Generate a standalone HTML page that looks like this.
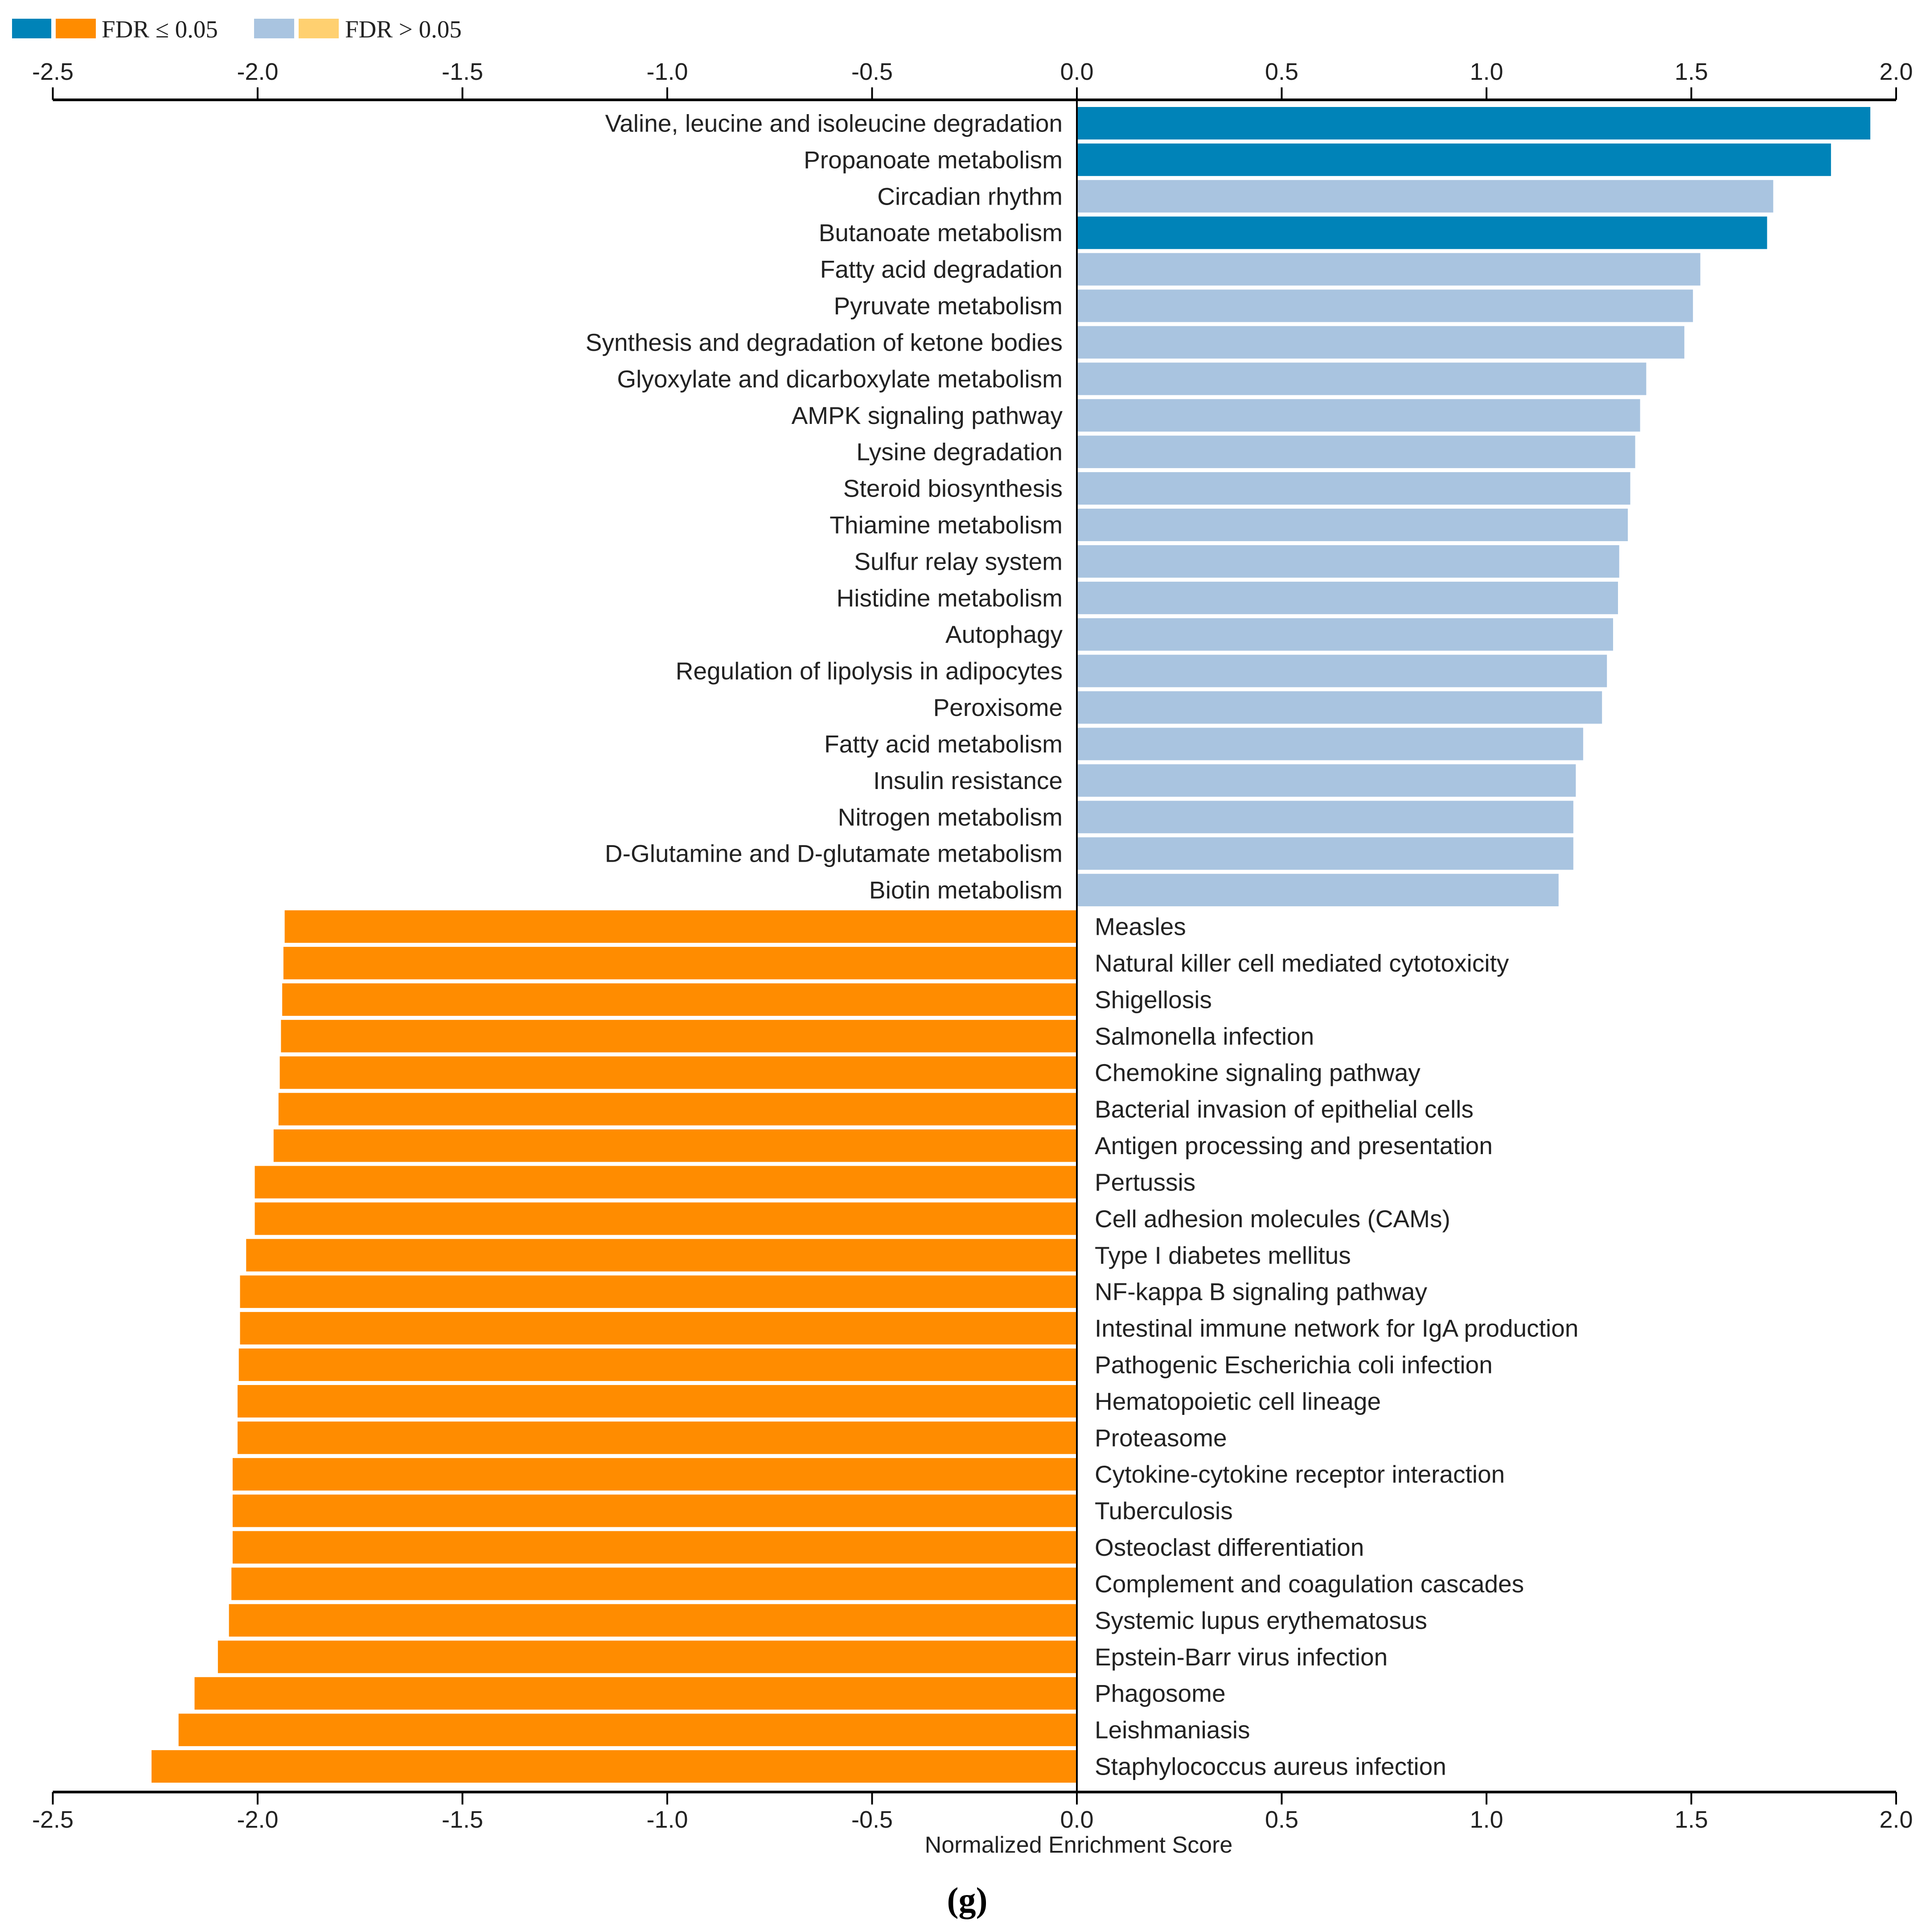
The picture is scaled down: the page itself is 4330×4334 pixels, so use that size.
<!DOCTYPE html>
<html><head><meta charset="utf-8"><style>
html,body{margin:0;padding:0;background:#fff;}
svg{display:block;}
</style></head><body>
<svg id="chart" width="4330" height="4334" viewBox="0 0 4330 4334" xmlns="http://www.w3.org/2000/svg">
<g>
<rect x="27" y="42" width="88" height="44" fill="#0083b8"/>
<rect x="125" y="42" width="90" height="44" fill="#ff8c00"/>
<text x="228" y="84" font-family="Liberation Serif, serif" font-size="55" fill="#222">FDR ≤ 0.05</text>
<rect x="570" y="42" width="90" height="44" fill="#a9c4e0"/>
<rect x="670" y="42" width="90" height="44" fill="#ffd070"/>
<text x="774" y="84" font-family="Liberation Serif, serif" font-size="55" fill="#222">FDR &gt; 0.05</text>
</g>
<g id="bars"></g>
<g id="axes"></g>
<text x="2420" y="4156" text-anchor="middle" font-family="Liberation Sans, sans-serif" font-size="52" fill="#222">Normalized Enrichment Score</text>
<text x="2170" y="4288" text-anchor="middle" font-family="Liberation Serif, serif" font-weight="bold" font-size="78" fill="#000">(g)</text>
</svg>
<script>
const categories = ["Valine, leucine and isoleucine degradation","Propanoate metabolism","Circadian rhythm","Butanoate metabolism","Fatty acid degradation","Pyruvate metabolism","Synthesis and degradation of ketone bodies","Glyoxylate and dicarboxylate metabolism","AMPK signaling pathway","Lysine degradation","Steroid biosynthesis","Thiamine metabolism","Sulfur relay system","Histidine metabolism","Autophagy","Regulation of lipolysis in adipocytes","Peroxisome","Fatty acid metabolism","Insulin resistance","Nitrogen metabolism","D-Glutamine and D-glutamate metabolism","Biotin metabolism","Measles","Natural killer cell mediated cytotoxicity","Shigellosis","Salmonella infection","Chemokine signaling pathway","Bacterial invasion of epithelial cells","Antigen processing and presentation","Pertussis","Cell adhesion molecules (CAMs)","Type I diabetes mellitus","NF-kappa B signaling pathway","Intestinal immune network for IgA production","Pathogenic Escherichia coli infection","Hematopoietic cell lineage","Proteasome","Cytokine-cytokine receptor interaction","Tuberculosis","Osteoclast differentiation","Complement and coagulation cascades","Systemic lupus erythematosus","Epstein-Barr virus infection","Phagosome","Leishmaniasis","Staphylococcus aureus infection"];
const nesValues = [1.937,1.841,1.700,1.685,1.522,1.504,1.483,1.390,1.375,1.363,1.351,1.345,1.324,1.321,1.309,1.294,1.282,1.236,1.218,1.212,1.212,1.176,-1.934,-1.937,-1.940,-1.943,-1.946,-1.949,-1.961,-2.007,-2.007,-2.028,-2.043,-2.043,-2.046,-2.049,-2.049,-2.061,-2.061,-2.061,-2.064,-2.070,-2.097,-2.154,-2.193,-2.259];
const significant = [1,1,0,1,0,0,0,0,0,0,0,0,0,0,0,0,0,0,0,0,0,0,1,1,1,1,1,1,1,1,1,1,1,1,1,1,1,1,1,1,1,1,1,1,1,1];
const tickValues = [-2.5,-2.0,-1.5,-1.0,-0.5,0.0,0.5,1.0,1.5,2.0];
const tickLabels = ["-2.5","-2.0","-1.5","-1.0","-0.5","0.0","0.5","1.0","1.5","2.0"];

const NS='http://www.w3.org/2000/svg';
const X0=2416, UNIT=919, TOP_AXIS=224, BOT_AXIS=4020, ROW0=240, PITCH=(4008-240)/categories.length, BAR_H=PITCH-9;
function xs(v){return X0+v*UNIT;}
function ys(i){return ROW0+i*PITCH;}
function mk(tag,attrs,parent){const e=document.createElementNS(NS,tag);for(const k in attrs)e.setAttribute(k,attrs[k]);parent.appendChild(e);return e;}
const bars=document.getElementById('bars'), axes=document.getElementById('axes');
categories.forEach((c,i)=>{
  const v=nesValues[i];
  const pos=v>=0;
  const col=pos?(significant[i]?'#0083b8':'#a9c4e0'):(significant[i]?'#ff8c00':'#ffd070');
  const x=Math.min(xs(0),xs(v)), w=Math.abs(xs(v)-xs(0));
  const r=mk('rect',{x:x,y:ys(i),width:w,height:BAR_H,fill:col},bars);
  
  
  const t=mk('text',{x:pos?xs(0)-32:xs(0)+40,y:ys(i)+BAR_H/2+19,'text-anchor':pos?'end':'start','font-family':'Liberation Sans, sans-serif','font-size':'55',fill:'#222'},bars);
  t.textContent=c;
  
  
});
const zl=mk('line',{x1:xs(0),x2:xs(0),y1:TOP_AXIS,y2:BOT_AXIS,stroke:'#000','stroke-width':4},axes);


[[TOP_AXIS,-1],[BOT_AXIS,1]].forEach(([y,d],k)=>{
  const l=mk('line',{x1:xs(tickValues[0]),x2:xs(tickValues[tickValues.length-1]),y1:y,y2:y,stroke:'#000','stroke-width':6},axes);
  
  
  tickValues.forEach((v,j)=>{
    const tk=mk('line',{x1:xs(v),x2:xs(v),y1:y,y2:y+d*28,stroke:'#000','stroke-width':4},axes);
    
    
    const tl=mk('text',{x:xs(v),y:d<0?y-45:y+80,'text-anchor':'middle','font-family':'Liberation Sans, sans-serif','font-size':'54',fill:'#222'},axes);
    tl.textContent=tickLabels[j];
    
    
  });
});
</script>
</body></html>
